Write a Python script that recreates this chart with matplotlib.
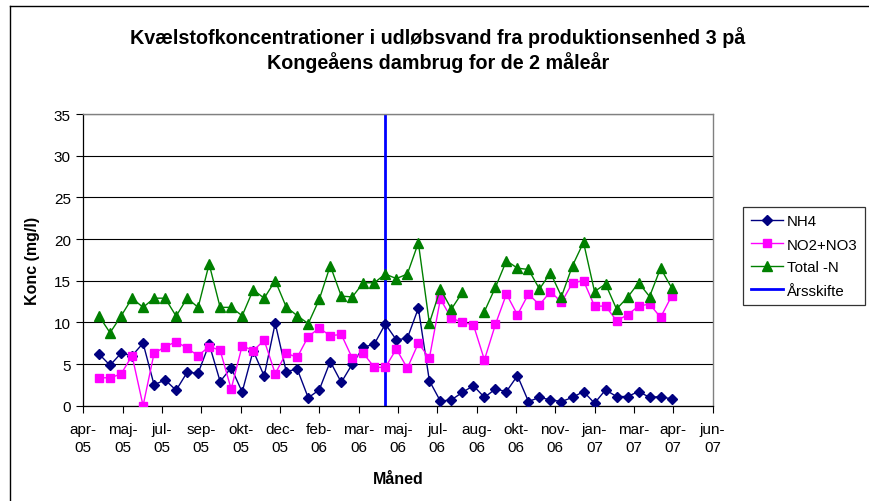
import matplotlib
matplotlib.use("Agg")
import matplotlib.pyplot as plt
import numpy as np
import datetime as dt

# maaledatoer (hver 14. dag)
datoer = [
    "2005-04-27", "2005-05-11", "2005-05-25", "2005-06-08", "2005-06-22",
    "2005-07-06", "2005-07-20", "2005-08-03", "2005-08-17", "2005-08-31",
    "2005-09-14", "2005-09-28", "2005-10-12", "2005-10-26", "2005-11-09",
    "2005-11-23", "2005-12-07", "2005-12-21", "2006-01-04", "2006-01-18",
    "2006-02-01", "2006-02-15", "2006-03-01", "2006-03-15", "2006-03-29",
    "2006-04-12", "2006-04-26", "2006-05-10", "2006-05-24", "2006-06-07",
    "2006-06-21", "2006-07-05", "2006-07-19", "2006-08-02", "2006-08-16",
    "2006-08-30", "2006-09-13", "2006-09-27", "2006-10-11", "2006-10-25",
    "2006-11-08", "2006-11-22", "2006-12-06", "2006-12-20", "2007-01-03",
    "2007-01-17", "2007-01-31", "2007-02-14", "2007-02-28", "2007-03-14",
    "2007-03-28", "2007-04-11", "2007-04-25",
]

nh4 = [
    6.2, 4.85, 6.3, 6.0, 7.5, 2.5, 3.1, 1.85, 4.0, 3.9,
    7.4, 2.9, 4.55, 1.65, 6.6, 3.55, 9.9, 4.1, 4.4, 0.95,
    1.9, 5.3, 2.8, 5.0, 7.0, 7.4, 9.8, 7.9, 8.1, 11.7,
    3.0, 0.55, 0.7, 1.6, 2.4, 1.0, 2.0, 1.7, 3.6, 0.5,
    1.0, 0.7, 0.5, 1.0, 1.7, 0.3, 1.9, 1.1, 1.1, 1.7,
    1.0, 1.1, 0.8,
]

no2_no3 = [
    3.35, 3.35, 3.8, 6.0, 0.0, 6.3, 7.05, 7.7, 6.9, 6.0,
    7.1, 6.65, 2.0, 7.2, 6.6, 7.85, 3.85, 6.3, 5.8, 8.3,
    9.3, 8.4, 8.55, 5.7, 6.3, 4.6, 4.6, 6.8, 4.5, 7.5,
    5.7, 12.8, 10.5, 10.0, 9.7, 5.5, 9.75, 13.4, 10.9, 13.4,
    12.1, 13.7, 12.4, 14.75, 15.0, 11.95, 11.95, 10.2, 10.9, 11.95,
    12.2, 10.6, 13.15,
]

total_n = [
    10.75, 8.75, 10.75, 12.9, 11.8, 12.9, 12.9, 10.75, 12.9, 11.8,
    17.0, 11.8, 11.8, 10.8, 13.9, 12.9, 15.0, 11.85, 10.8, 9.85,
    12.75, 16.8, 13.15, 13.05, 14.75, 14.75, 15.8, 15.25, 15.8, 19.55,
    9.9, 14.0, 11.6, 13.6, np.nan, 11.3, 14.2, 17.4, 16.5, 16.35,
    14.0, 15.95, 13.1, 16.8, 19.6, 13.7, 14.6, 11.6, 13.0, 14.75,
    13.1, 16.5, 14.15,
]

aarsskifte = "2006-04-26"
maaneder = ["jan", "feb", "mar", "apr", "maj", "jun",
            "jul", "aug", "sep", "okt", "nov", "dec"]
y_ticks = [0, 5, 10, 15, 20, 25, 30, 35]

x = [dt.datetime.strptime(d, "%Y-%m-%d") for d in datoer]

plt.rcParams["font.family"] = ["Liberation Sans", "DejaVu Sans"]

fig = plt.figure(figsize=(8.69, 5.02), dpi=100)
ax = fig.add_axes([83.3 / 869, 1 - 406.7 / 502, 629.2 / 869, 291.7 / 502])

# aarsskifte bag serierne
ax.axvline(dt.datetime.strptime(aarsskifte, "%Y-%m-%d"), color="#0000FF",
           lw=2, zorder=1.5, label="Årsskifte")

ax.plot(x, nh4, color="#000080", marker="D", markersize=5, lw=1,
        label="NH4", zorder=3)
ax.plot(x, no2_no3, color="#FF00FF", marker="s", markersize=5.5, lw=1,
        label="NO2+NO3", zorder=4)
ax.plot(x, total_n, color="#008000", marker="^", markersize=6.5, lw=1,
        label="Total -N", zorder=5)

# x-akse: Excel-agtig datoakse med 50 dages interval
start = dt.datetime(2005, 4, 7)
tick_datoer = [start + dt.timedelta(days=50 * k) for k in range(17)]
ax.set_xlim(start, tick_datoer[-1])
ax.set_xticks(tick_datoer)
ax.set_xticklabels([f"{maaneder[d.month - 1]}-\n{d.strftime('%y')}" for d in tick_datoer],
                   linespacing=1.35)

ax.set_ylim(0, 35)
ax.set_yticks(y_ticks)

ax.tick_params(direction="out", length=5, width=0.8, labelsize=11, color="black")
ax.tick_params(axis="x", pad=7)
ax.tick_params(axis="y", pad=4)

ax.yaxis.grid(True, color="black", lw=0.8)
ax.set_axisbelow(True)

for side in ["top", "right"]:
    ax.spines[side].set_color("#808080")
    ax.spines[side].set_linewidth(1)
for side in ["left", "bottom"]:
    ax.spines[side].set_color("black")
    ax.spines[side].set_linewidth(0.9)

ax.set_ylabel("Konc (mg/l)", fontsize=11.5, fontweight="bold")
ax.yaxis.set_label_coords((33 - 83.3) / 629.2, 0.5)
ax.yaxis.label.set_va("center")
ax.set_xlabel("Måned", fontsize=11.5, fontweight="bold")
ax.xaxis.set_label_coords(0.5, (406.7 - 480) / 291.7)
ax.xaxis.label.set_va("center")

fig.text(438 / 869, 1 - 50 / 502,
         "Kvælstofkoncentrationer i udløbsvand fra produktionsenhed 3 på\n"
         "Kongeåens dambrug for de 2 måleår",
         ha="center", va="center", fontsize=14.2, fontweight="bold",
         linespacing=1.22)

# legend i samme raekkefoelge som originalen
h, l = ax.get_legend_handles_labels()
orden = ["NH4", "NO2+NO3", "Total -N", "Årsskifte"]
h = [h[l.index(n)] for n in orden]
leg = ax.legend(h, orden, loc="upper left",
                bbox_to_anchor=(743 / 869, 1 - 208 / 502),
                bbox_transform=fig.transFigure, fontsize=10.8,
                frameon=True, fancybox=False, handlelength=2.15,
                handletextpad=0.3, labelspacing=0.6, borderpad=0.5,
                borderaxespad=0)
leg.get_frame().set_edgecolor("black")
leg.get_frame().set_linewidth(0.9)

# ramme om hele diagrammet (kun venstre og top ses)
fig.add_artist(plt.Line2D([10 / 869, 10 / 869], [0, 1 - 7 / 502],
                          transform=fig.transFigure, color="black", lw=1))
fig.add_artist(plt.Line2D([10 / 869, 1], [1 - 7 / 502, 1 - 7 / 502],
                          transform=fig.transFigure, color="black", lw=1))

fig.savefig("out.png", dpi=100)
